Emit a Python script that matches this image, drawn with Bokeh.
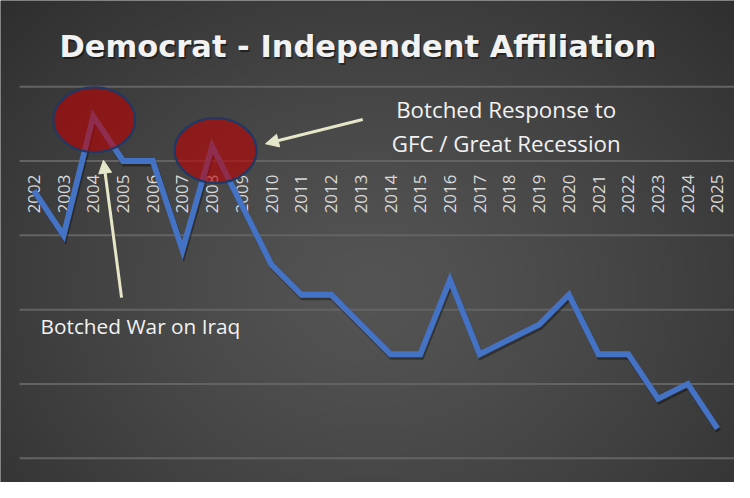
import numpy as np
from bokeh.plotting import figure
from bokeh.models import Range1d, ColumnDataSource, Arrow, NormalHead
from bokeh.core.properties import value
from bokeh.embed import file_html
from bokeh.resources import INLINE

# ---------------- data ----------------
years = list(range(2002, 2026))
year_labels = [str(y) for y in years]
dem_minus_ind = [13, 10, 18, 15, 15, 9, 16, 12, 8, 6, 6, 4, 2, 2, 7, 2, 3, 4, 6, 2, 2, -1, 0, -3]
grid_values = [20, 15, 10, 5, 0, -5]
highlight_years = [2004, 2008]
title_text = "Democrat - Independent Affiliation"
note_iraq = "Botched War on Iraq"
note_gfc = ["Botched Response to", "GFC / Great Recession"]

# ---------------- layout helpers (reference pixel -> data) ----------------
S = 482 / 498
REF_RIGHT = 770
W, H = 734, 482
PX_YEAR = 31.18
PX_UNIT = 15.36


def rx(px):
    return 2002 + (px - 35) / PX_YEAR


def ry(py):
    return 20 - (py - 89) / PX_UNIT


x0, x1 = rx(0), rx(REF_RIGHT)
y0, y1 = ry(498), ry(0)

p = figure(width=W, height=H, x_range=Range1d(x0, x1), y_range=Range1d(y0, y1),
           output_backend="svg", toolbar_location=None, min_border=0,
           x_axis_type=None, y_axis_type=None)
p.grid.visible = False
p.outline_line_color = None
p.background_fill_color = "#404040"
p.border_fill_color = "#404040"

# ---------------- background radial gradient ----------------
ny, nx = 241, 367
jj = (np.arange(nx) + 0.5) / nx * REF_RIGHT
ii = 498 - (np.arange(ny) + 0.5) / ny * 498
PX, PY = np.meshgrid(jj, ii)
d = np.sqrt(((PX - 390) / 540) ** 2 + ((PY - 300) / 440) ** 2)
shade = np.clip(84 - 38 * d ** 1.3, 38, 90).astype(np.uint8)
img = np.empty((ny, nx), dtype=np.uint32)
view = img.view(dtype=np.uint8).reshape((ny, nx, 4))
view[..., 0] = shade
view[..., 1] = shade
view[..., 2] = shade
view[..., 3] = 255
p.image_rgba(image=[img], x=x0, y=y0, dw=x1 - x0, dh=y1 - y0)

# ---------------- gridlines ----------------
gsrc = ColumnDataSource(dict(x0=[rx(20)] * len(grid_values), x1=[rx(REF_RIGHT + 10)] * len(grid_values),
                             y=grid_values))
p.segment(x0="x0", y0="y", x1="x1", y1="y", source=gsrc, line_color="#636363", line_width=2)

# ---------------- category labels ----------------
p.text(x=years, y=[ry(180)] * len(years), text=year_labels, angle=np.pi / 2,
       text_align="right", text_baseline="middle", text_font=value("Open Sans"),
       text_font_size=f"{17.5 * S:.1f}px", text_color="#d9d9d9")

# ---------------- series ----------------
p.line([y + 0.04 for y in years], [v - 0.17 for v in dem_minus_ind], line_color="black",
       line_alpha=0.35, line_width=6 * S, line_join="miter")
p.line(years, dem_minus_ind, line_color="#4472C4", line_width=6 * S, line_join="miter")

# ---------------- highlight ellipses ----------------
lookup = dict(zip(years, dem_minus_ind))
ex = [highlight_years[0] + 1 / PX_YEAR, highlight_years[1] + 3.5 / PX_YEAR]
ey = [lookup[highlight_years[0]] - 3.5 / PX_UNIT, lookup[highlight_years[1]] - 4.5 / PX_UNIT]
p.ellipse(x=ex, y=ey, width=86 / PX_YEAR, height=67 / PX_UNIT, fill_color="#C00000",
          fill_alpha=0.6, line_color="#1F3864", line_width=2.2)

# ---------------- arrows ----------------
cream = "#E6E6C8"
for (xs, ys, xe, ye) in [(127, 307, 108, 165), (380, 123, 278, 148)]:
    p.add_layout(Arrow(end=NormalHead(size=13, fill_color=cream, line_color=cream, line_width=1),
                       x_start=rx(xs), y_start=ry(ys), x_end=rx(xe), y_end=ry(ye),
                       line_color=cream, line_width=3))

# ---------------- annotation texts ----------------
p.text(x=[rx(42)], y=[ry(336)], text=[note_iraq], text_align="left", text_baseline="alphabetic",
       text_font=value("Open Sans"), text_font_size=f"{21.5 * S:.1f}px", text_color="#f2f2f2")
p.text(x=[rx(530.5)] * 2, y=[ry(113), ry(148)], text=note_gfc, text_align="center",
       text_baseline="alphabetic", text_font=value("Open Sans"),
       text_font_size=f"{23 * S:.1f}px", text_color="#f2f2f2")

# ---------------- title ----------------
p.text(x=[rx(376.5)], y=[ry(49.5)], text=[title_text], text_align="center",
       text_baseline="alphabetic", text_font=value("DejaVu Sans"), text_font_style="bold",
       text_font_size=f"{31.5 * S:.1f}px", text_color="black", text_alpha=0.45)
p.text(x=[rx(375)], y=[ry(48)], text=[title_text], text_align="center",
       text_baseline="alphabetic", text_font=value("DejaVu Sans"), text_font_style="bold",
       text_font_size=f"{31.5 * S:.1f}px", text_color="#f2f2f2")

open("out.html", "w").write(file_html(p, INLINE))
